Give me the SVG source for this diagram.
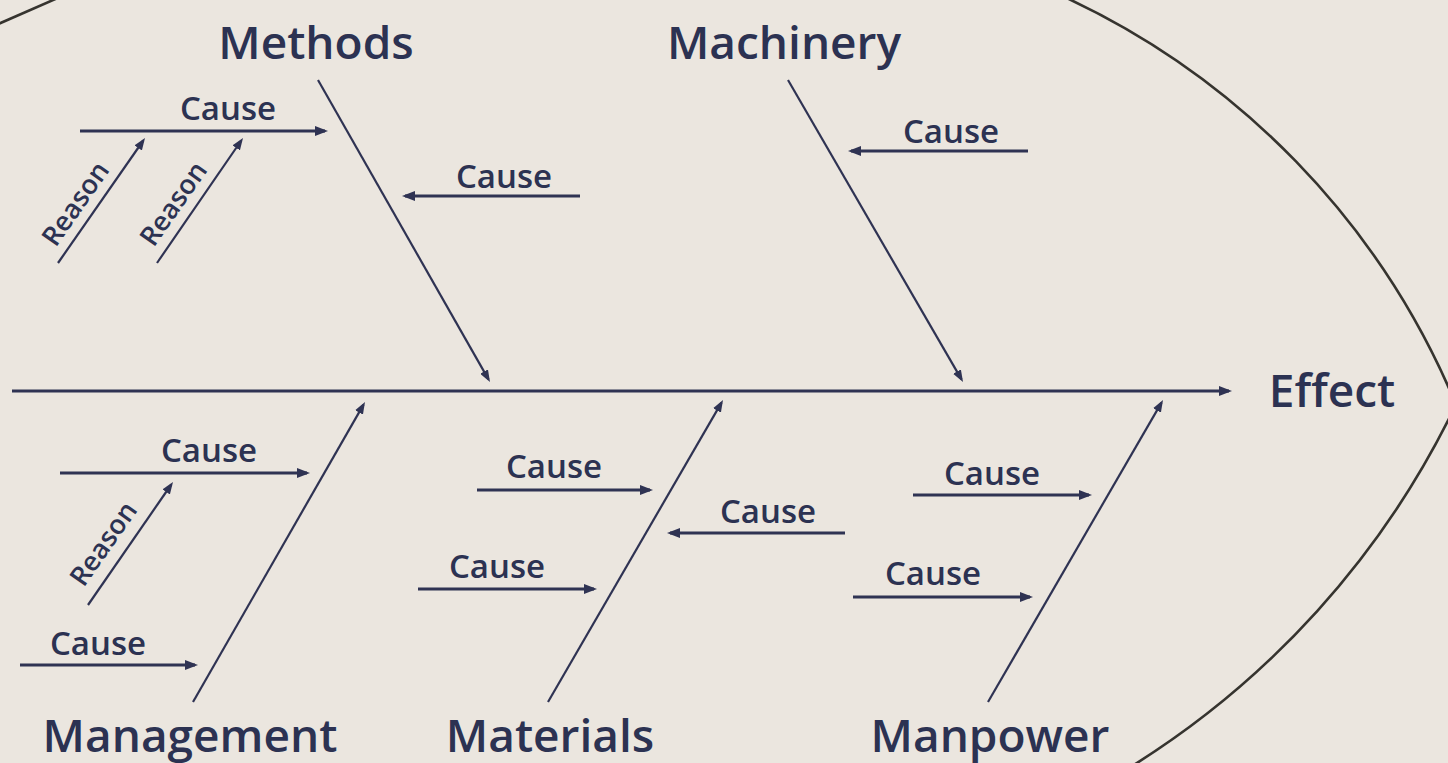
<svg xmlns="http://www.w3.org/2000/svg" width="1448" height="763" viewBox="0 0 1448 763">
  <style>
    .bg { fill: #ebe6df; }
    .outline { fill: none; stroke: #36342f; stroke-width: 2.6; }
    .spine { stroke: #2f3353; stroke-width: 3; fill: none; }
    .bone { stroke: #2f3353; stroke-width: 2.2; fill: none; }
    .cause { stroke: #2f3353; stroke-width: 2.8; fill: none; }
    .reason { stroke: #2f3353; stroke-width: 2.2; fill: none; }
    text { font-family: "Open Sans", "Noto Sans", "Liberation Sans", sans-serif; font-weight: 600; fill: #2c3252; text-anchor: middle; }
    .cat { font-size: 46px; }
    .lbl { font-size: 33px; }
    .rsn { font-size: 27px; }
  </style>
  <defs>
    <marker id="head" viewBox="0 0 13 10" refX="10" refY="5" markerWidth="13" markerHeight="10" markerUnits="userSpaceOnUse" orient="auto">
      <path d="M0,0 L13,5 L0,10 z" fill="#2f3353"/>
    </marker>
    <marker id="head-sm" viewBox="0 0 12 9" refX="9" refY="4.5" markerWidth="12" markerHeight="9" markerUnits="userSpaceOnUse" orient="auto">
      <path d="M0,0 L12,4.5 L0,9 z" fill="#2f3353"/>
    </marker>
  </defs>

  <rect class="bg" x="0" y="0" width="1448" height="763"/>

  <!-- fish outline: head arcs on the right, tail edge at top left -->
  <g id="outline">
    <path class="outline" d="M 1058 -6 A 780 780 0 0 1 1456 404.5 A 871 871 0 0 1 1125.7 770"/>
    <path class="outline" d="M -4 25 L 60 -3"/>
  </g>

  <!-- connectors: spine, category bones, cause and reason arrows -->
  <g id="connectors">
    <line class="spine" x1="12" y1="391" x2="1229" y2="391" marker-end="url(#head)"/>

    <!-- bones -->
    <line class="bone" x1="318" y1="80" x2="488.5" y2="379.4" marker-end="url(#head-sm)"/>
    <line class="bone" x1="788" y1="80" x2="961.5" y2="379.4" marker-end="url(#head-sm)"/>
    <line class="bone" x1="193" y1="702" x2="363.5" y2="404.6" marker-end="url(#head-sm)"/>
    <line class="bone" x1="548" y1="702" x2="721.5" y2="402.6" marker-end="url(#head-sm)"/>
    <line class="bone" x1="988" y1="702" x2="1161.5" y2="402.6" marker-end="url(#head-sm)"/>

    <!-- cause arrows -->
    <line class="cause" x1="80" y1="131" x2="325" y2="131" marker-end="url(#head)"/>
    <line class="cause" x1="580" y1="196" x2="405" y2="196" marker-end="url(#head)"/>
    <line class="cause" x1="1028" y1="151" x2="851" y2="151" marker-end="url(#head)"/>
    <line class="cause" x1="60" y1="473" x2="307" y2="473" marker-end="url(#head)"/>
    <line class="cause" x1="20" y1="665" x2="195" y2="665" marker-end="url(#head)"/>
    <line class="cause" x1="477" y1="490" x2="650" y2="490" marker-end="url(#head)"/>
    <line class="cause" x1="418" y1="589" x2="594" y2="589" marker-end="url(#head)"/>
    <line class="cause" x1="845" y1="533" x2="670" y2="533" marker-end="url(#head)"/>
    <line class="cause" x1="913" y1="495" x2="1089" y2="495" marker-end="url(#head)"/>
    <line class="cause" x1="853" y1="597" x2="1030" y2="597" marker-end="url(#head)"/>

    <!-- reason arrows -->
    <line class="reason" x1="58" y1="263" x2="143.3" y2="140.5" marker-end="url(#head-sm)"/>
    <line class="reason" x1="157" y1="263" x2="241.3" y2="140.5" marker-end="url(#head-sm)"/>
    <line class="reason" x1="88" y1="605" x2="171.3" y2="484.5" marker-end="url(#head-sm)"/>
  </g>

  <!-- category labels -->
  <g id="methods"><text class="cat" x="316" y="59">Methods</text></g>
  <g id="machinery"><text class="cat" x="784" y="59">Machinery</text></g>
  <g id="effect"><text class="cat" x="1332" y="407">Effect</text></g>
  <g id="management"><text class="cat" x="190" y="752">Management</text></g>
  <g id="materials"><text class="cat" x="550" y="752">Materials</text></g>
  <g id="manpower"><text class="cat" x="990" y="752">Manpower</text></g>

  <!-- cause labels -->
  <g id="cause-methods-1"><text class="lbl" x="228" y="120">Cause</text></g>
  <g id="cause-methods-2"><text class="lbl" x="504" y="188">Cause</text></g>
  <g id="cause-machinery-1"><text class="lbl" x="951" y="143">Cause</text></g>
  <g id="cause-management-1"><text class="lbl" x="209" y="462">Cause</text></g>
  <g id="cause-management-2"><text class="lbl" x="98" y="655">Cause</text></g>
  <g id="cause-materials-1"><text class="lbl" x="554" y="478">Cause</text></g>
  <g id="cause-materials-2"><text class="lbl" x="497" y="578">Cause</text></g>
  <g id="cause-materials-3"><text class="lbl" x="768" y="523">Cause</text></g>
  <g id="cause-manpower-1"><text class="lbl" x="992" y="485">Cause</text></g>
  <g id="cause-manpower-2"><text class="lbl" x="933" y="585">Cause</text></g>

  <!-- reason labels, set along their arrows -->
  <g id="reason-methods-1"><text class="rsn" x="83" y="209" transform="rotate(-55 83 209)">Reason</text></g>
  <g id="reason-methods-2"><text class="rsn" x="181" y="209" transform="rotate(-55 181 209)">Reason</text></g>
  <g id="reason-management-1"><text class="rsn" x="111" y="549" transform="rotate(-55 111 549)">Reason</text></g>
</svg>
